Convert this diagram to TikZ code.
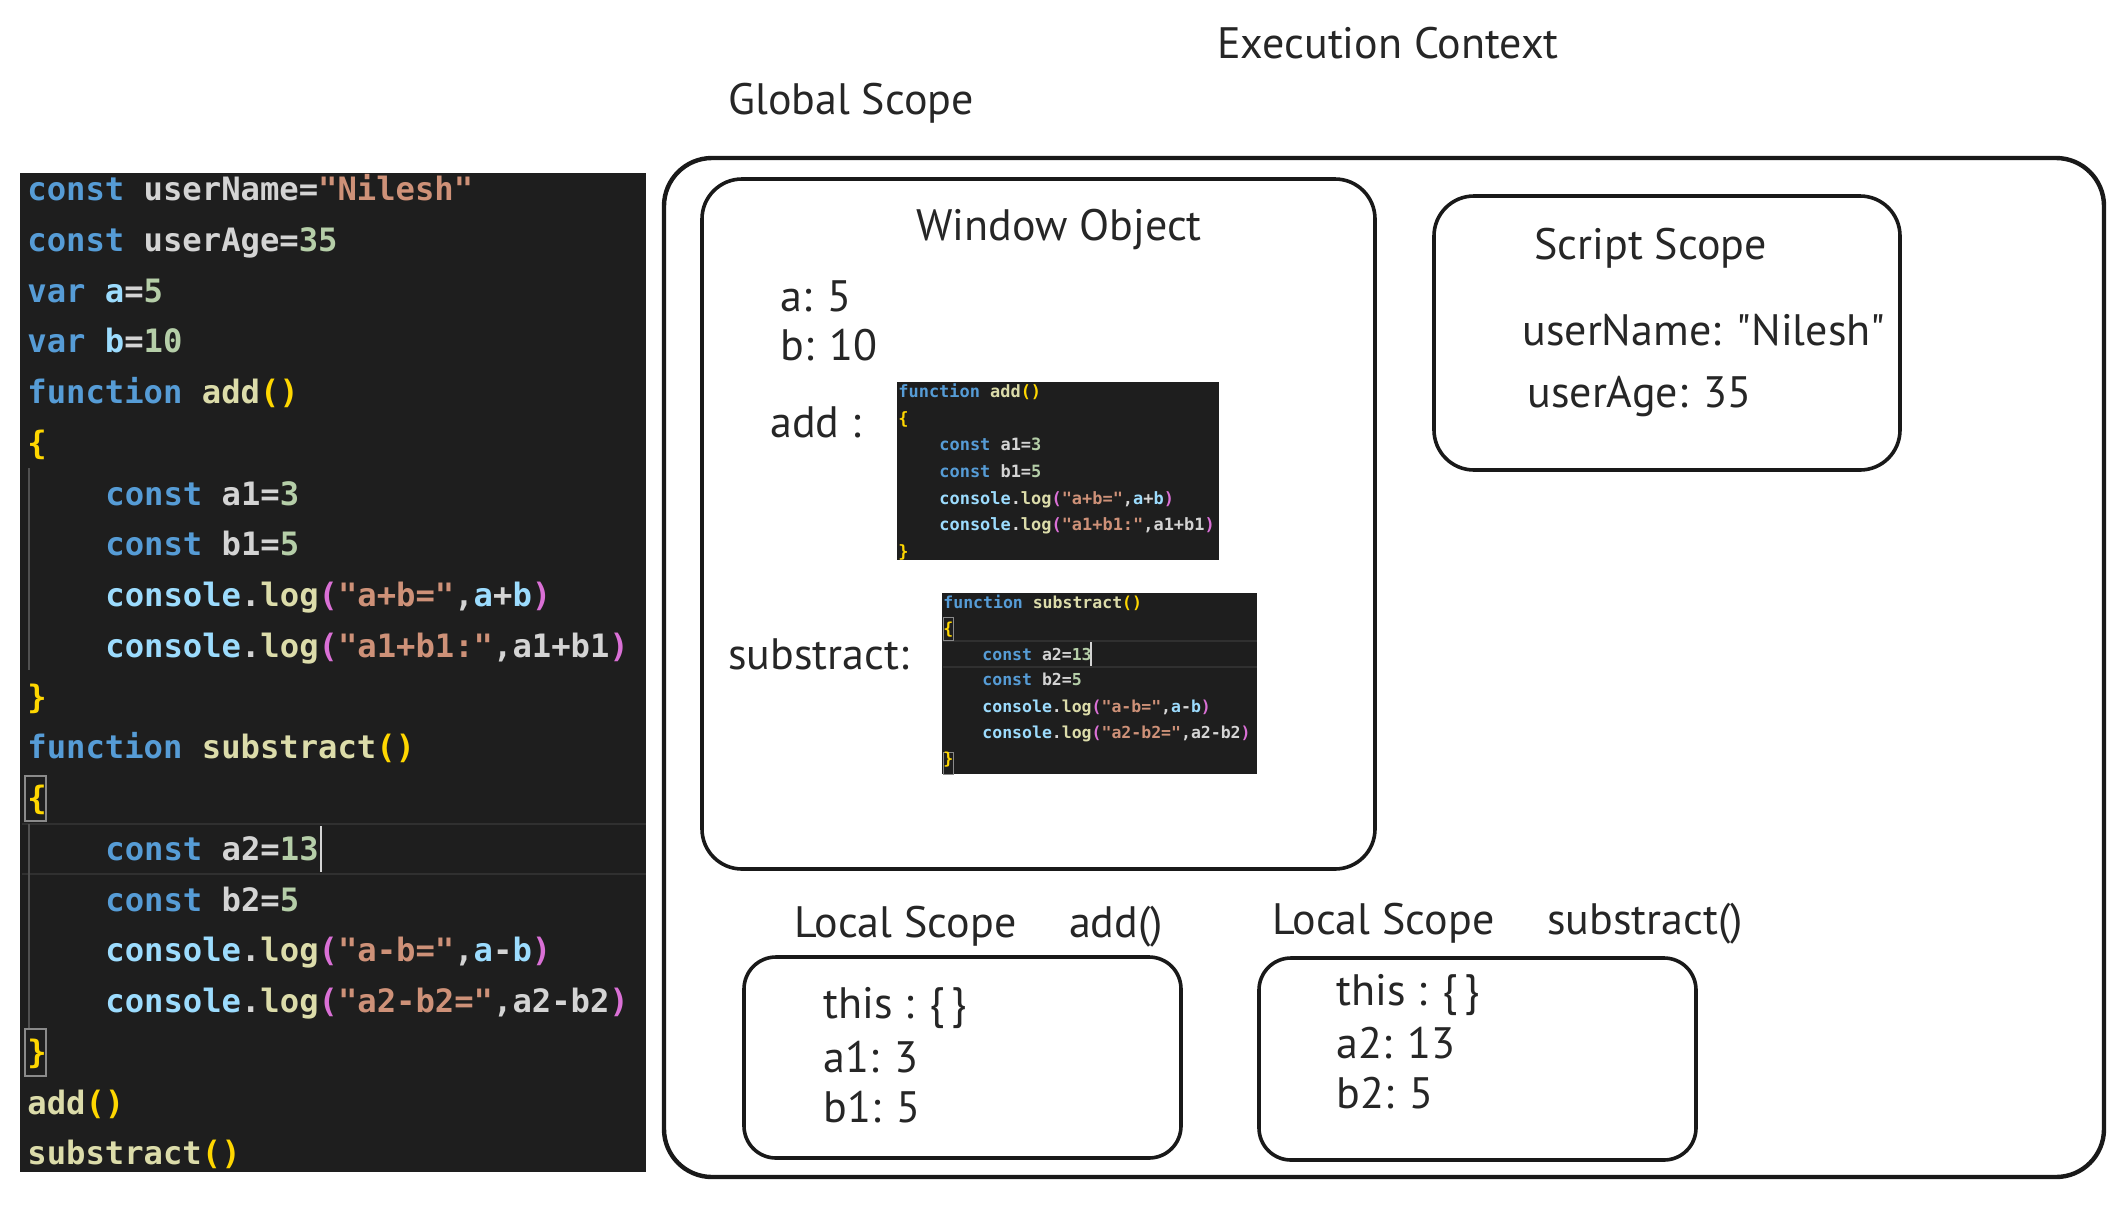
\documentclass[tikz,border=0pt]{standalone}
\usepackage{fontspec}
\setmainfont{PT Sans}[Ligatures=TeXOff]
\setmonofont{DejaVu Sans Mono}
\definecolor{ckw}{HTML}{569CD6}
\definecolor{cvar}{HTML}{9CDCFE}
\definecolor{cwh}{HTML}{D4D4D4}
\definecolor{cstr}{HTML}{CE9178}
\definecolor{cnum}{HTML}{B5CEA8}
\definecolor{cfn}{HTML}{DCDCAA}
\definecolor{cgold}{HTML}{FFD700}
\definecolor{cpink}{HTML}{DA70D6}
\definecolor{codebg}{HTML}{1E1E1E}
\definecolor{hlline}{HTML}{303030}
\definecolor{guide}{HTML}{505050}
\definecolor{brbox}{HTML}{8A8A8A}
\newcommand\cK[1]{\textcolor{ckw}{#1}}
\newcommand\cV[1]{\textcolor{cvar}{#1}}
\newcommand\cW[1]{\textcolor{cwh}{#1}}
\newcommand\cS[1]{\textcolor{cstr}{#1}}
\newcommand\cN[1]{\textcolor{cnum}{#1}}
\newcommand\cF[1]{\textcolor{cfn}{#1}}
\newcommand\cY[1]{\textcolor{cgold}{#1}}
\newcommand\cP[1]{\textcolor{cpink}{#1}}
\newcommand\bigcode{\ttfamily\bfseries\fontsize{16.1}{19}\selectfont}
\newcommand\addcode{\ttfamily\bfseries\fontsize{8.47}{10}\selectfont}
\newcommand\subcode{\ttfamily\bfseries\fontsize{8.25}{10}\selectfont}
\newcommand\hand{\rmfamily\fontsize{22}{26}\selectfont}
\begin{document}
\begin{tikzpicture}[x=0.5pt,y=-0.5pt,
  code/.style={anchor=base west,inner sep=0pt},
  bigc/.style={code,font=\bigcode},
  addc/.style={code,font=\addcode},
  subc/.style={code,font=\subcode},
  lbl/.style={anchor=west,inner sep=0pt,font=\hand,text=black!85},
  sketch/.style={draw=black!90,line width=1.8pt,rounded corners=#1},
  sketch/.default=20pt]
\useasboundingbox (0,0) rectangle (2122,1206);
\fill[white] (0,0) rectangle (2122,1206);
% ---------------- code panel ----------------
\fill[codebg] (20,173) rectangle (646,1172);
% indent guide for add body
\draw[guide,line width=0.6pt] (29,468) -- (29,670);
% substract current line highlight and bracket boxes
\draw[hlline,line width=1pt] (22,824) -- (646,824);
\draw[hlline,line width=1pt] (22,874) -- (646,874);
\draw[brbox,line width=0.7pt] (25,776) rectangle (46,821);
\draw[brbox,line width=0.7pt] (25,1029) rectangle (46,1076);
\draw[guide,line width=0.6pt] (29,824) -- (29,1028);
\draw[cwh,line width=1.2pt] (321,826) -- (321,872);
\node[bigc] (c0) at (27,200.5) {\cK{const} \cW{userName=}\cS{"Nilesh"}};
\node[bigc] (c1) at (27,251.25) {\cK{const} \cW{userAge=}\cN{35}};
\node[bigc] (c2) at (27,302) {\cK{var} \cV{a}\cW{=}\cN{5}};
\node[bigc] (c3) at (27,352.75) {\cK{var} \cV{b}\cW{=}\cN{10}};
\node[bigc] (c4) at (27,403.5) {\cK{function} \cF{add}\cY{()}};
\node[bigc] (c5) at (27,454.25) {\cY{\{}};
\node[bigc] (c6) at (105,505) {\cK{const} \cW{a1=}\cN{3}};
\node[bigc] (c7) at (105,555.75) {\cK{const} \cW{b1=}\cN{5}};
\node[bigc] (c8) at (105,606.5) {\cV{console}\cW{.}\cF{log}\cP{(}\cS{"a+b="}\cW{,}\cV{a}\cW{+}\cV{b}\cP{)}};
\node[bigc] (c9) at (105,657.25) {\cV{console}\cW{.}\cF{log}\cP{(}\cS{"a1+b1:"}\cW{,a1+b1}\cP{)}};
\node[bigc] (c10) at (27,708) {\cY{\}}};
\node[bigc] (c11) at (27,758.75) {\cK{function} \cF{substract}\cY{()}};
\node[bigc] (c12) at (27,809.5) {\cY{\{}};
\node[bigc] (c13) at (105,860.25) {\cK{const} \cW{a2=}\cN{13}};
\node[bigc] (c14) at (105,911) {\cK{const} \cW{b2=}\cN{5}};
\node[bigc] (c15) at (105,961.75) {\cV{console}\cW{.}\cF{log}\cP{(}\cS{"a-b="}\cW{,}\cV{a}\cW{-}\cV{b}\cP{)}};
\node[bigc] (c16) at (105,1012.5) {\cV{console}\cW{.}\cF{log}\cP{(}\cS{"a2-b2="}\cW{,a2-b2}\cP{)}};
\node[bigc] (c17) at (27,1063.25) {\cY{\}}};
\node[bigc] (c18) at (27,1114) {\cF{add}\cY{()}};
\node[bigc] (c19) at (27,1164.75) {\cF{substract}\cY{()}};
% ---------------- titles ----------------
\node[lbl] (exec) at (1217,43) {Execution Context};
\node[lbl] (glob) at (728,103) {Global Scope};
% ---------------- boxes ----------------
\draw[sketch=24pt,line width=2.2pt] (664,158) rectangle (2104,1177);
\draw[sketch=20pt] (702,179) rectangle (1375,869);
\draw[sketch=20pt] (1434,196) rectangle (1900,470);
\draw[sketch=16pt] (744,957) rectangle (1181,1158);
\draw[sketch=16pt] (1259,958) rectangle (1696,1160);
% ---------------- window object ----------------
\node[lbl] (win) at (916,229) {Window Object};
\node[lbl] (wa) at (780,296) {a: 5};
\node[lbl] (wb) at (780,345) {b: 10};
\node[lbl] (wadd) at (770,422) {add :};
\node[lbl] (wsub) at (728,654) {substract:};
% add image
\fill[codebg] (897,382) rectangle (1219,560);
\node[addc] (a0) at (898,397) {\cK{function} \cF{add}\cY{()}};
\node[addc] (a1) at (898,424) {\cY{\{}};
\node[addc] (a2) at (939,450) {\cK{const} \cW{a1=}\cN{3}};
\node[addc] (a3) at (939,477) {\cK{const} \cW{b1=}\cN{5}};
\node[addc] (a4) at (939,504) {\cV{console}\cW{.}\cF{log}\cP{(}\cS{"a+b="}\cW{,}\cV{a}\cW{+}\cV{b}\cP{)}};
\node[addc] (a5) at (939,530) {\cV{console}\cW{.}\cF{log}\cP{(}\cS{"a1+b1:"}\cW{,a1+b1}\cP{)}};
\node[addc] (a6) at (898,557) {\cY{\}}};
% substract image
\fill[codebg] (942,593) rectangle (1257,774);
\draw[hlline,line width=0.6pt] (943,641) -- (1257,641);
\draw[hlline,line width=0.6pt] (943,667) -- (1257,667);
\draw[brbox,line width=0.4pt] (943,617) rectangle (953,640);
\draw[brbox,line width=0.4pt] (943,752) rectangle (953,774);
\draw[cwh,line width=0.6pt] (1091,642) -- (1091,666);
\node[subc] (s0) at (943,608) {\cK{function} \cF{substract}\cY{()}};
\node[subc] (s1) at (943,634) {\cY{\{}};
\node[subc] (s2) at (982,660) {\cK{const} \cW{a2=}\cN{13}};
\node[subc] (s3) at (982,685) {\cK{const} \cW{b2=}\cN{5}};
\node[subc] (s4) at (982,712) {\cV{console}\cW{.}\cF{log}\cP{(}\cS{"a-b="}\cW{,}\cV{a}\cW{-}\cV{b}\cP{)}};
\node[subc] (s5) at (982,738) {\cV{console}\cW{.}\cF{log}\cP{(}\cS{"a2-b2="}\cW{,a2-b2}\cP{)}};
\node[subc] (s6) at (943,764) {\cY{\}}};
% ---------------- script scope ----------------
\node[lbl] (scr) at (1534,248) {Script Scope};
\node[lbl] (sun) at (1522,330) {userName: "Nilesh"};
\node[lbl] (sua) at (1527,397) {userAge: 35};
% ---------------- local scopes ----------------
\node[lbl] (lsa) at (794,927) {Local Scope\hspace{1.2em}add()};
\node[lbl] (lss) at (1272,924) {Local Scope\hspace{1.2em}substract()};
\node[lbl] (t1) at (823,1008) {this : \{\hspace{0.15em}\}};
\node[lbl] (a1v) at (823,1057) {a1: 3};
\node[lbl] (b1v) at (823,1107) {b1: 5};
\node[lbl] (t2) at (1336,995) {this : \{\hspace{0.15em}\}};
\node[lbl] (a2v) at (1336,1043) {a2: 13};
\node[lbl] (b2v) at (1336,1093) {b2: 5};
\end{tikzpicture}
\end{document}
